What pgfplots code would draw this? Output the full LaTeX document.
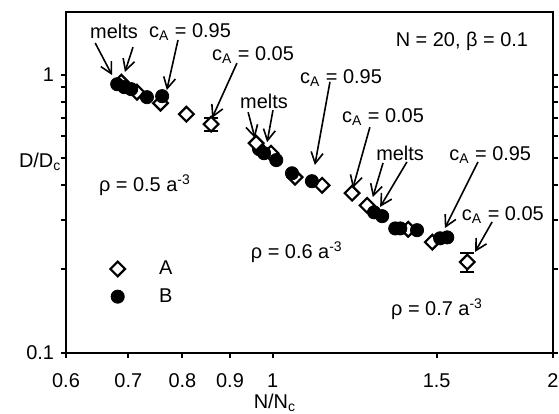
\documentclass[border=0pt]{standalone}
\usepackage{pgfplots}
\pgfplotsset{compat=1.18}
\usepackage{fontspec}
\setmainfont{Liberation Sans}
\usetikzlibrary{arrows.meta}

% species A: open diamonds, species B: filled circles
\pgfplotstableread{
x      y
0.688  0.940
0.715  0.865
0.758  0.790
0.808  0.721
0.996  0.522
1.057  0.428
1.130  0.400
1.217  0.375
1.263  0.339
1.398  0.278
1.484  0.250
}\dataA
\pgfplotstableread{
x      y      ep     em
0.859  0.664  0.035  0.035
1.618  0.212  0.016  0.017
}\dataAerr
\pgfplotstableread{
x      y
0.681  0.924
0.693  0.902
0.705  0.887
0.733  0.830
0.761  0.837
0.967  0.540
0.979  0.522
1.009  0.493
1.049  0.442
1.102  0.414
1.285  0.320
1.311  0.310
1.354  0.280
1.371  0.280
1.429  0.276
1.513  0.258
1.540  0.260
}\dataB
\pgfplotstableread{
x      y
0.960  0.567
}\dataAtop

\pgfplotsset{
  markA/.style={only marks, mark=square*, mark size=2.6bp,
    mark options={rotate=45, fill=white, draw=black, line width=1.1bp}},
  markB/.style={only marks, mark=*, mark size=3.3bp,
    mark options={fill=black, draw=black}},
}
\tikzset{
  note/.style={draw=black, line width=0.8bp,
    -{Straight Barb[length=5.5bp,width=6bp,line width=0.8bp]}},
}

\begin{document}
\fontsize{10}{12}\selectfont
\begin{tikzpicture}
\begin{axis}[
  scale only axis,
  width=243.5bp, height=170.4bp,
  xmode=log, ymode=log,
  xmin=0.6, xmax=2, ymin=0.1, ymax=1.68,
  xtick={0.6,0.7,0.8,0.9,1,1.5,2},
  xticklabels={0.6,0.7,0.8,0.9,1,1.5,2},
  ytick={0.1,1}, yticklabels={0.1,1},
  minor ytick={0.2,0.3,0.4,0.5,0.6,0.7,0.8,0.9},
  minor xtick={},
  tick align=outside,
  xtick pos=left, ytick pos=both,
  axis line style={line width=1bp},
  every tick/.style={black, line width=0.9bp},
  major tick length=2.5bp, minor tick length=2.5bp,
  xticklabel style={yshift=-4.5bp},
  tick label style={font=\fontsize{10}{12}\selectfont},
  every axis x label/.style={at={(rel axis cs:0.429,0)}, anchor=north, yshift=-17bp},
  every axis y label/.style={at={(rel axis cs:-0.053,0.56)}, anchor=center},
  xlabel={N/N\textsubscript{c}},
  ylabel={D/D\textsubscript{c}},
  clip=false,
  legend style={at={(0.078,0.295)}, anchor=north west,
    draw=none, fill=none, row sep=1.5bp,
    font=\fontsize{10}{12}\selectfont,
    /tikz/every odd column/.append style={column sep=15bp}},
  legend cell align=left,
]
\addplot[markA] table[x=x,y=y] {\dataA};
\addlegendentry{A}
\addplot[markB] table[x=x,y=y] {\dataB};
\addlegendentry{B}
\addplot[markA, forget plot,
  error bars/.cd, y dir=both, y explicit,
  error bar style={line width=0.9bp, black},
  error mark options={rotate=90, mark size=3.5bp, line width=0.9bp, black}]
  table[x=x,y=y,y error plus=ep,y error minus=em] {\dataAerr};
\addplot[markA, forget plot] table[x=x,y=y] {\dataAtop};

% annotations
\node at (rel axis cs:0.0986,0.944) {melts};
\node at (rel axis cs:0.2546,0.941) {c\textsubscript{A} = 0.95};
\node at (rel axis cs:0.384,0.874) {c\textsubscript{A} = 0.05};
\node at (rel axis cs:0.4066,0.739) {melts};
\node at (rel axis cs:0.5647,0.806) {c\textsubscript{A} = 0.95};
\node at (rel axis cs:0.651,0.692) {c\textsubscript{A} = 0.05};
\node at (rel axis cs:0.686,0.586) {melts};
\node at (rel axis cs:0.871,0.580) {c\textsubscript{A} = 0.95};
\node at (rel axis cs:0.897,0.404) {c\textsubscript{A} = 0.05};
\node at (rel axis cs:0.813,0.915) {N = 20, β = 0.1};
\node at (rel axis cs:0.162,0.492) {ρ = 0.5 a\textsuperscript{-3}};
\node at (rel axis cs:0.474,0.296) {ρ = 0.6 a\textsuperscript{-3}};
\node at (rel axis cs:0.762,0.128) {ρ = 0.7 a\textsuperscript{-3}};

\draw[note] (rel axis cs:0.060,0.909) -- (rel axis cs:0.0945,0.815);
\draw[note] (rel axis cs:0.1376,0.897) -- (rel axis cs:0.121,0.824);
\draw[note] (rel axis cs:0.230,0.918) -- (rel axis cs:0.207,0.771);
\draw[note] (rel axis cs:0.351,0.850) -- (rel axis cs:0.300,0.689);
\draw[note] (rel axis cs:0.374,0.706) -- (rel axis cs:0.388,0.630);
\draw[note] (rel axis cs:0.425,0.712) -- (rel axis cs:0.413,0.618);
\draw[note] (rel axis cs:0.542,0.795) -- (rel axis cs:0.511,0.551);
\draw[note] (rel axis cs:0.624,0.662) -- (rel axis cs:0.589,0.483);
\draw[note] (rel axis cs:0.651,0.557) -- (rel axis cs:0.630,0.457);
\draw[note] (rel axis cs:0.700,0.560) -- (rel axis cs:0.645,0.428);
\draw[note] (rel axis cs:0.846,0.560) -- (rel axis cs:0.778,0.366);
\draw[note] (rel axis cs:0.875,0.384) -- (rel axis cs:0.840,0.296);

\coordinate (boxsw) at (rel axis cs:0,0);
\coordinate (boxne) at (rel axis cs:1,1);
\end{axis}
\pgfresetboundingbox
\useasboundingbox ([shift={(-33bp,-30.5bp)}]boxsw) rectangle ([shift={(3bp,6bp)}]boxne);
\end{tikzpicture}
\end{document}
